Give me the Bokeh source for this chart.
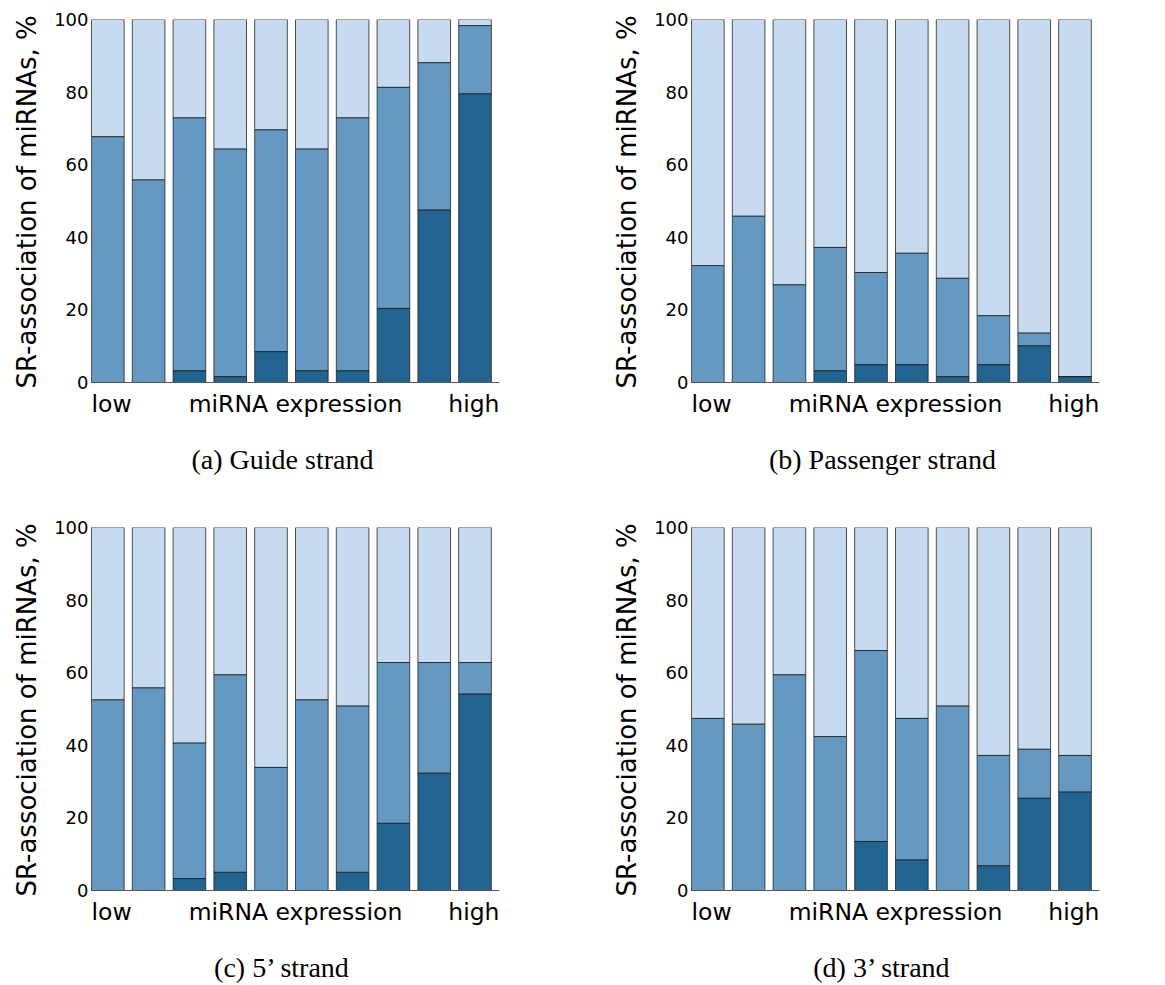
from bokeh.plotting import figure
from bokeh.layouts import column, row
from bokeh.models import Label, FixedTicker, Range1d, Title
from bokeh.embed import file_html
from bokeh.resources import INLINE

# ---- data (percent of miRNAs, 10 expression bins, low -> high) ----
bins = list(range(10))
guide_dark = [0, 0, 3.2, 1.6, 8.5, 3.2, 3.2, 20.4, 47.5, 79.5]
guide_mid = [67.7, 55.8, 72.9, 64.3, 69.6, 64.3, 72.9, 81.3, 88.1, 98.3]
pass_dark = [0, 0, 0, 3.2, 4.9, 4.9, 1.6, 4.9, 10.1, 1.6]
pass_mid = [32.2, 45.8, 26.9, 37.2, 30.3, 35.6, 28.7, 18.4, 13.6, 1.6]
five_dark = [0, 0, 3.3, 5.0, 0, 0, 5.0, 18.5, 32.3, 54.1]
five_mid = [52.5, 55.8, 40.6, 59.4, 33.9, 52.5, 50.8, 62.8, 62.8, 62.8]
three_dark = [0, 0, 0, 0, 13.5, 8.4, 0, 6.8, 25.4, 27.1]
three_mid = [47.4, 45.8, 59.4, 42.4, 66.1, 47.4, 50.8, 37.2, 38.9, 37.2]

y_ticks = [0, 20, 40, 60, 80, 100]
y_label = "SR-association of miRNAs, %"
x_words = ["low", "miRNA expression", "high"]
captions = ["(a) Guide strand", "(b) Passenger strand", "(c) 5\u2019 strand", "(d) 3\u2019 strand"]

LIGHT = "#c6dbef"
MID = "#6699c1"
DARK = "#22638f"
AXIS = "#555555"
SANS = "DejaVu Sans"
SERIF = "Liberation Serif"

PX_PER_UNIT = 3.63  # 100 % spans 363 px


def panel(dark, mid, caption, w, h, left, top):
    below_px = h - top - 363
    p = figure(width=w, height=h, output_backend="svg", toolbar_location=None,
               x_range=Range1d(0, 10), y_range=Range1d(-below_px / PX_PER_UNIT, 100),
               x_axis_location=None,
               min_border_left=left, min_border_right=w - left - 408,
               min_border_top=top, min_border_bottom=0,
               frame_width=408, frame_height=h - top)
    p.outline_line_color = None
    p.grid.visible = False
    p.background_fill_color = "white"
    p.border_fill_color = "white"

    xs = [b + 0.4 for b in bins]
    full = [100] * len(bins)
    zero = [0] * len(bins)
    common = dict(width=0.8, line_color="#1a1a1a", line_alpha=0.75, line_width=1)
    p.vbar(x=xs, bottom=mid, top=full, fill_color=LIGHT, **common)
    p.vbar(x=xs, bottom=dark, top=mid, fill_color=MID, **common)
    p.vbar(x=xs, bottom=zero, top=dark, fill_color=DARK, **common)

    # bottom axis line at 0 %
    p.segment(x0=[0], y0=[0], x1=[10], y1=[0], line_color=AXIS, line_width=1)

    ya = p.yaxis[0]
    ya.bounds = (0, 100)
    ya.ticker = FixedTicker(ticks=y_ticks)
    ya.major_label_text_font = SANS
    ya.major_label_text_font_size = "18px"
    ya.major_label_text_color = "black"
    ya.major_label_standoff = 3
    ya.major_tick_out = 0
    ya.major_tick_in = 0
    ya.minor_tick_out = 0
    ya.minor_tick_in = 0
    ya.axis_line_color = AXIS

    # y-axis title, starting just below the 0 % line and running upward
    p.add_layout(Title(text=y_label, align="left", offset=below_px - 6,
                       text_font=SANS, text_font_size="26px", text_font_style="normal",
                       text_color="black", standoff=19), "left")

    aligns = ["left", "center", "right"]
    xpos = [0, 5, 10]
    for word, al, xp in zip(x_words, aligns, xpos):
        p.add_layout(Label(x=xp, y=0, text=word,
                           text_align=al, text_baseline="alphabetic", y_offset=-21,
                           text_font=SANS, text_font_size="23.5px", text_color="black"))
    p.add_layout(Label(x=0, y=0, text=caption, x_offset=191, y_offset=-77,
                       text_align="center", text_baseline="alphabetic",
                       text_font=SERIF, text_font_size="28px", text_color="black"))
    return p


pa = panel(guide_dark, guide_mid, captions[0], 580, 480, 90, 19)
pb = panel(pass_dark, pass_mid, captions[1], 585, 480, 110, 19)
pc = panel(five_dark, five_mid, captions[2], 580, 505, 90, 47)
pd = panel(three_dark, three_mid, captions[3], 585, 505, 110, 47)

layout = column(row(pa, pb), row(pc, pd))
open("out.html", "w").write(file_html(layout, INLINE))
